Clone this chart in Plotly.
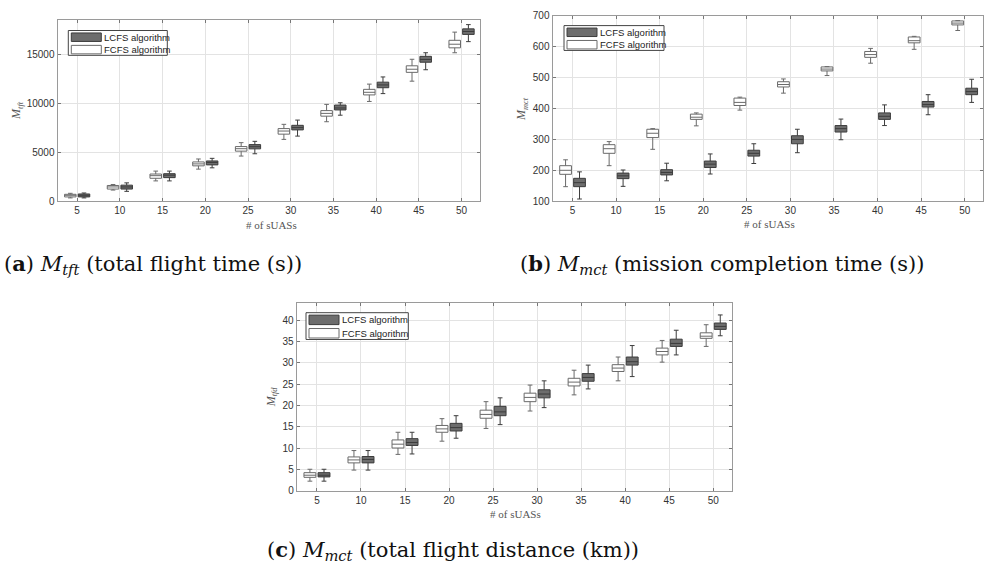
import plotly.graph_objects as go

W, H = 987, 574

n_suas = [5, 10, 15, 20, 25, 30, 35, 40, 45, 50]
tick_labels = [str(v) for v in n_suas]

# (a) total flight time
tft_fcfs_low = [333, 1133, 2066, 3266, 4600, 6300, 8100, 10166, 12233, 15133]
tft_fcfs_q1 = [433, 1233, 2333, 3600, 5100, 6833, 8666, 10833, 13133, 15633]
tft_fcfs_med = [600, 1450, 2600, 3800, 5350, 7150, 8950, 11100, 13450, 16000]
tft_fcfs_q3 = [700, 1600, 2766, 4000, 5566, 7400, 9233, 11400, 13800, 16400]
tft_fcfs_high = [800, 1700, 3066, 4300, 5966, 7833, 9866, 11933, 14466, 17233]

tft_lcfs_low = [333, 1000, 2066, 3400, 4833, 6633, 8766, 10966, 13400, 16266]
tft_lcfs_q1 = [433, 1233, 2400, 3700, 5333, 7266, 9300, 11566, 14166, 17000]
tft_lcfs_med = [600, 1450, 2650, 3950, 5550, 7500, 9500, 11850, 14450, 17300]
tft_lcfs_q3 = [733, 1633, 2800, 4100, 5766, 7733, 9800, 12133, 14766, 17566]
tft_lcfs_high = [833, 1866, 3066, 4366, 6100, 8266, 10033, 12666, 15133, 18000]

# (b) mission completion time
mct_fcfs_low = [147, 215, 268, 344, 395, 450, 507, 547, 592, 653]
mct_fcfs_q1 = [187, 255, 306, 365, 410, 470, 522, 566, 613, 671]
mct_fcfs_med = [200, 270, 320, 372, 420, 478, 528, 575, 620, 677]
mct_fcfs_q3 = [215, 283, 333, 382, 434, 487, 535, 585, 632, 684]
mct_fcfs_high = [234, 293, 335, 386, 437, 496, 536, 595, 634, 685]

mct_lcfs_low = [107, 148, 166, 188, 222, 257, 299, 345, 380, 420]
mct_lcfs_q1 = [147, 173, 185, 209, 246, 286, 324, 365, 405, 445]
mct_lcfs_med = [160, 182, 193, 220, 255, 300, 335, 375, 413, 455]
mct_lcfs_q3 = [174, 191, 202, 230, 265, 312, 345, 386, 423, 466]
mct_lcfs_high = [195, 201, 223, 253, 286, 333, 366, 412, 445, 495]

# (c) total flight distance
tfd_fcfs_low = [2.2, 4.8, 8.5, 11.6, 14.6, 18.7, 22.5, 25.8, 30.2, 33.9]
tfd_fcfs_q1 = [3.1, 6.5, 10.0, 13.7, 17.0, 20.9, 24.6, 28.0, 31.9, 35.8]
tfd_fcfs_med = [3.6, 7.2, 10.9, 14.5, 17.9, 21.9, 25.5, 28.8, 32.7, 36.3]
tfd_fcfs_q3 = [4.2, 7.9, 11.9, 15.3, 18.9, 22.9, 26.4, 29.6, 33.5, 37.1]
tfd_fcfs_high = [5.0, 9.4, 13.7, 16.9, 20.9, 24.8, 28.3, 31.4, 35.3, 39.0]

tfd_lcfs_low = [2.2, 4.8, 8.6, 12.3, 15.5, 19.5, 23.9, 26.8, 31.9, 36.4]
tfd_lcfs_q1 = [3.2, 6.5, 10.6, 14.0, 17.6, 21.8, 25.7, 29.5, 33.9, 37.9]
tfd_lcfs_med = [3.6, 7.3, 11.3, 14.8, 18.5, 22.7, 26.6, 30.3, 34.6, 38.6]
tfd_lcfs_q3 = [4.2, 8.0, 12.2, 15.8, 19.8, 23.7, 27.5, 31.4, 35.6, 39.4]
tfd_lcfs_high = [5.0, 9.4, 13.7, 17.6, 21.8, 25.8, 29.5, 34.1, 37.7, 41.3]

y_ticks_a = [0, 5000, 10000, 15000]
y_ticks_b = [100, 200, 300, 400, 500, 600, 700]
y_ticks_c = [0, 5, 10, 15, 20, 25, 30, 35, 40]

legend_names = ["LCFS algorithm", "FCFS algorithm"]

# styles
OFFSET = 0.8
BOXW = 1.35
LCFS_FILL = "#6d6d6d"
LCFS_LINE = "#3c3c3c"
FCFS_FILL = "#ffffff"
FCFS_LINE = "#6a6a6a"
GRID = "#e3e3e3"
FRAME = "#9a9a9a"
TICKFONT = dict(family="Liberation Sans, Arial, sans-serif", size=10, color="#333333")
SERIF = "Liberation Serif, Times New Roman, serif"
CAPSERIF = "DejaVu Serif, serif"


def px(x):
    return x / W


def py(y):
    return 1 - y / H


fig = go.Figure()

panels = [
    ("x", "y", (tft_fcfs_low, tft_fcfs_q1, tft_fcfs_med, tft_fcfs_q3, tft_fcfs_high),
     (tft_lcfs_low, tft_lcfs_q1, tft_lcfs_med, tft_lcfs_q3, tft_lcfs_high)),
    ("x2", "y2", (mct_fcfs_low, mct_fcfs_q1, mct_fcfs_med, mct_fcfs_q3, mct_fcfs_high),
     (mct_lcfs_low, mct_lcfs_q1, mct_lcfs_med, mct_lcfs_q3, mct_lcfs_high)),
    ("x3", "y3", (tfd_fcfs_low, tfd_fcfs_q1, tfd_fcfs_med, tfd_fcfs_q3, tfd_fcfs_high),
     (tfd_lcfs_low, tfd_lcfs_q1, tfd_lcfs_med, tfd_lcfs_q3, tfd_lcfs_high)),
]

for xa, ya, f, l in panels:
    for stats, sign, fill, line in [(f, -1, FCFS_FILL, FCFS_LINE), (l, 1, LCFS_FILL, LCFS_LINE)]:
        low, q1, med, q3, high = stats
        fig.add_trace(go.Box(
            x=[n + sign * OFFSET for n in n_suas],
            lowerfence=low, q1=q1, median=med, q3=q3, upperfence=high,
            width=BOXW, whiskerwidth=0.4, boxpoints=False,
            fillcolor=fill, line=dict(color=line, width=1),
            xaxis=xa, yaxis=ya, showlegend=False, hoverinfo="skip",
        ))

# panel geometry (pixels): left, right, top, bottom
geo = {
    "1": (57.5, 479.5, 15.7, 200.0),
    "2": (552.5, 983.0, 11.2, 200.0),
    "3": (296.7, 731.7, 304.3, 495.0),
}
yranges = {"1": [0, 18430], "2": [100, 700], "3": [0, 44]}
ytickvals = {"1": y_ticks_a, "2": y_ticks_b, "3": y_ticks_c}

for k, (l, r, t, b) in geo.items():
    sx = "" if k == "1" else k
    common = dict(showgrid=True, gridcolor=GRID, gridwidth=1, showline=True, linecolor=FRAME,
                  linewidth=1, mirror="ticks", ticks="inside", ticklen=3, tickcolor="#777777",
                  tickfont=TICKFONT, zeroline=False, fixedrange=True)
    fig.layout["xaxis" + sx] = dict(domain=[px(l), px(r)], anchor="y" + sx, range=[2.7, 52.1],
                                    tickvals=n_suas, ticktext=tick_labels, **common)
    fig.layout["yaxis" + sx] = dict(domain=[py(b), py(t)], anchor="x" + sx, range=yranges[k],
                                    tickvals=ytickvals[k],
                                    ticktext=[str(v) for v in ytickvals[k]], **common)

annotations = []
shapes = []

# axis titles
xtitles = [(271, 224), (769, 223.5), (515, 519.3)]
ytitles = [(17, 108, "<i>M</i><sub><i>tft</i></sub>"),
           (522, 106, "<i>M</i><sub><i>mct</i></sub>"),
           (272, 400, "<i>M</i><sub><i>tfd</i></sub>")]
for (x, y) in xtitles:
    annotations.append(dict(x=px(x), y=py(y), xref="paper", yref="paper", text="# of sUASs",
                            showarrow=False, font=dict(family=SERIF, size=11, color="#555555"),
                            xanchor="center", yanchor="middle"))
for (x, y, txt) in ytitles:
    annotations.append(dict(x=px(x), y=py(y), xref="paper", yref="paper", text=txt, textangle=-90,
                            showarrow=False, font=dict(family=SERIF, size=12, color="#555555"),
                            xanchor="center", yanchor="middle"))

# custom legends: frame (l, t, r, b)
legends = [(68.3, 26, 167.3, 51.3), (564, 21, 664, 46.3), (306, 313.7, 408.3, 341)]
for (l, t, r, b) in legends:
    shapes.append(dict(type="rect", xref="paper", yref="paper", x0=px(l), x1=px(r), y0=py(b), y1=py(t),
                       line=dict(color="#444444", width=1), fillcolor="white", layer="above"))
    hrow = (b - t) / 2
    for i, (name, fill, line) in enumerate(zip(legend_names, [LCFS_FILL, FCFS_FILL], [LCFS_LINE, FCFS_LINE])):
        y0 = t + i * hrow + 2.5
        y1 = t + (i + 1) * hrow - 1.5
        shapes.append(dict(type="rect", xref="paper", yref="paper", x0=px(l + 3), x1=px(l + 33),
                           y0=py(y1), y1=py(y0), line=dict(color=line, width=1), fillcolor=fill,
                           layer="above"))
        annotations.append(dict(x=px(l + 34), y=py((y0 + y1) / 2), xref="paper", yref="paper",
                                text=name, showarrow=False, xanchor="left", yanchor="middle",
                                font=dict(family="Liberation Sans, Arial, sans-serif", size=9.5,
                                          color="#222222")))

# captions
captions = [
    (2, 265, "(<b>a</b>) <i>M</i><sub><i>tft</i></sub> (total flight time (s))"),
    (518, 265, "(<b>b</b>) <i>M</i><sub><i>mct</i></sub> (mission completion time (s))"),
    (265, 556, "(<b>c</b>) <i>M</i><sub><i>mct</i></sub> (total flight distance (km))"),
]
for (x, y, txt) in captions:
    annotations.append(dict(x=px(x), y=py(y), xref="paper", yref="paper", text=txt, showarrow=False,
                            xanchor="left", yanchor="middle",
                            font=dict(family=CAPSERIF, size=21, color="#111111")))

fig.update_layout(
    width=W, height=H, margin=dict(l=0, r=0, t=0, b=0),
    paper_bgcolor="white", plot_bgcolor="white",
    boxmode="overlay", showlegend=False,
    annotations=annotations, shapes=shapes,
)

fig.write_html("out.html")
